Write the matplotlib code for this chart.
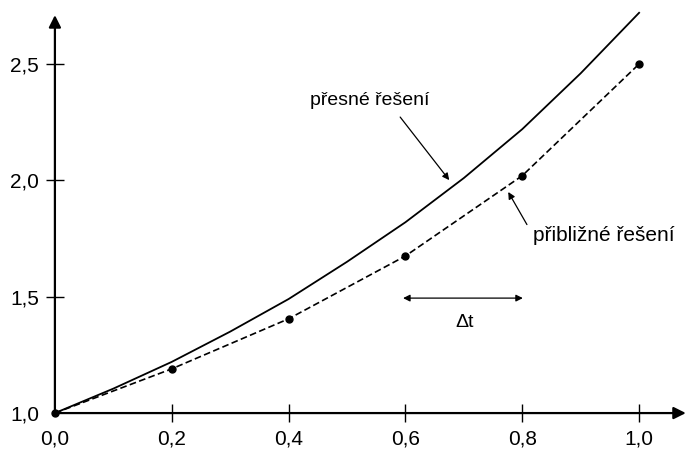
import numpy as np
import matplotlib.pyplot as plt

plt.rcParams['font.family'] = ['Liberation Sans', 'DejaVu Sans']

# presne reseni (krok 0.1)
t_exact = [0.0, 0.1, 0.2, 0.3, 0.4, 0.5, 0.6, 0.7, 0.8, 0.9, 1.0]
y_exact = [1.0, 1.105, 1.22, 1.35, 1.49, 1.65, 1.82, 2.01, 2.22, 2.46, 2.72]

# priblizne reseni (krok 0.2)
t_approx = [0.0, 0.2, 0.4, 0.6, 0.8, 1.0]
y_approx = [1.0, 1.19, 1.405, 1.675, 2.02, 2.5]

xticks = [0.0, 0.2, 0.4, 0.6, 0.8, 1.0]
yticks = [1.0, 1.5, 2.0, 2.5]

fig = plt.figure(figsize=(6.87, 4.51), dpi=100)
ax = fig.add_axes([0, 0, 1, 1])
ax.set_xlim(-0.094, 1.082)
ax.set_ylim(0.837, 2.775)

ax.plot(t_exact, y_exact, color='black', lw=1.3)
ax.plot(t_approx, y_approx, color='black', lw=1.2, ls=(0, (4, 2)))
ax.plot(t_approx, y_approx, 'o', color='black', ms=5)

# osy se sipkami
for s in ['top', 'right']:
    ax.spines[s].set_visible(False)
ax.spines['left'].set_position(('data', 0.0))
ax.spines['bottom'].set_position(('data', 1.0))
ax.spines['left'].set_visible(False)
ax.spines['bottom'].set_visible(False)
ax.annotate('', xy=(1.08, 1.0), xytext=(0.0, 1.0),
            arrowprops=dict(arrowstyle='-|>', color='black', lw=1.6,
                            mutation_scale=18, shrinkA=0, shrinkB=0))
ax.annotate('', xy=(0.0, 2.71), xytext=(0.0, 1.0),
            arrowprops=dict(arrowstyle='-|>', color='black', lw=1.6,
                            mutation_scale=18, shrinkA=0, shrinkB=0))

ax.set_xticks(xticks)
ax.set_xticklabels([f'{v:.1f}'.replace('.', ',') for v in xticks])
ax.set_yticks(yticks)
ax.set_yticklabels([f'{v:.1f}'.replace('.', ',') for v in yticks])
ax.tick_params(axis='x', direction='inout', length=13, width=1.0, pad=5, labelsize=15)
ax.tick_params(axis='y', direction='inout', length=13, width=1.0, pad=5, labelsize=15)
# tick 0,0 a 1,0 v pocatku nekreslit
ax.xaxis.get_major_ticks()[0].tick1line.set_visible(False)
ax.yaxis.get_major_ticks()[0].tick1line.set_visible(False)

# popisky
ax.annotate('', xy=(0.675, 2.001), xytext=(0.591, 2.272),
            arrowprops=dict(arrowstyle='-|>', color='black', lw=0.9,
                            mutation_scale=10, shrinkA=0, shrinkB=0))
ax.text(0.539, 2.345, 'přesné řešení', fontsize=14, ha='center', va='center')

ax.annotate('', xy=(0.776, 1.95), xytext=(0.808, 1.81),
            arrowprops=dict(arrowstyle='-|>', color='black', lw=0.9,
                            mutation_scale=10, shrinkA=0, shrinkB=0))
ax.text(0.818, 1.765, 'přibližné řešení', fontsize=15, ha='left', va='center')

ax.annotate('', xy=(0.801, 1.494), xytext=(0.596, 1.494),
            arrowprops=dict(arrowstyle='<|-|>', color='black', lw=0.9,
                            mutation_scale=10, shrinkA=0, shrinkB=0))
ax.text(0.702, 1.39, 'Δt', fontsize=14, ha='center', va='center')

fig.savefig('out.png', dpi=100)
